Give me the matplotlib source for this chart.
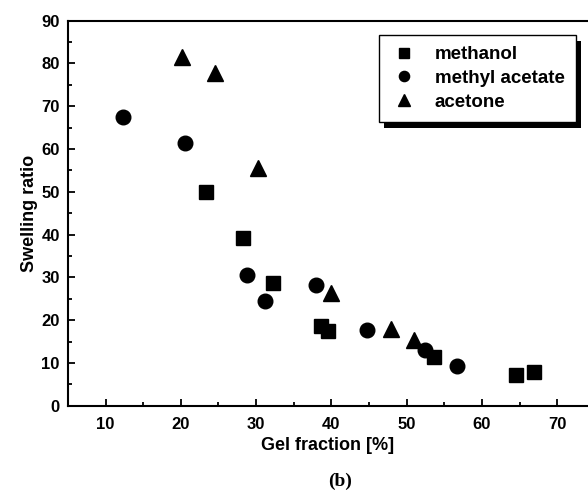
import matplotlib.pyplot as plt
from matplotlib.patches import Rectangle
from matplotlib.ticker import MultipleLocator

# values
methanol_x = [23.3, 28.2, 32.2, 38.6, 39.5, 53.7, 64.5, 66.9]
methanol_y = [50.0, 39.3, 28.8, 18.6, 17.5, 11.4, 7.1, 7.9]

methyl_acetate_x = [12.3, 20.6, 28.8, 31.2, 37.9, 44.8, 52.4, 56.7]
methyl_acetate_y = [67.4, 61.4, 30.5, 24.5, 28.2, 17.7, 13.0, 9.3]

acetone_x = [20.2, 24.5, 30.2, 39.9, 47.9, 51.0]
acetone_y = [81.4, 77.7, 55.5, 26.4, 17.9, 15.4]

plt.rcParams['font.family'] = ['Liberation Sans', 'DejaVu Sans']
plt.rcParams['font.weight'] = 'bold'

fig = plt.figure(figsize=(5.88, 5.04), dpi=100)
ax = fig.add_axes([0.1156, 0.195, 1.0 - 0.1156, 0.764])

ax.plot(methanol_x, methanol_y, 's', color='black', markersize=10, label='methanol')
ax.plot(methyl_acetate_x, methyl_acetate_y, 'o', color='black', markersize=10.5, label='methyl acetate')
ax.plot(acetone_x, acetone_y, '^', color='black', markersize=12, label='acetone')

ax.set_xlim(5, 74.1)
ax.set_ylim(0, 90)
ax.xaxis.set_major_locator(MultipleLocator(10))
ax.xaxis.set_minor_locator(MultipleLocator(5))
ax.yaxis.set_major_locator(MultipleLocator(10))
ax.yaxis.set_minor_locator(MultipleLocator(5))
ax.tick_params(which='both', direction='in', width=1.3, labelsize=12, top=False, right=False)
ax.tick_params(which='major', length=5)
ax.tick_params(axis='x', which='major', pad=8)
ax.tick_params(axis='y', which='major', pad=6)
ax.tick_params(which='minor', length=3)
for lab in ax.get_xticklabels() + ax.get_yticklabels():
    lab.set_fontweight('bold')
ax.spines['right'].set_visible(False)
for s in ['left', 'bottom', 'top']:
    ax.spines[s].set_linewidth(1.5)

ax.set_xlabel('Gel fraction [%]', fontsize=13, fontweight='bold', labelpad=4)
ax.set_ylabel('Swelling ratio', fontsize=13, fontweight='bold', labelpad=2)

leg = ax.legend(loc='upper right', bbox_to_anchor=(0.977, 0.963), fancybox=False, shadow=False,
                framealpha=1, edgecolor='black', fontsize=13.5, handletextpad=0.9,
                borderpad=0.6, borderaxespad=0, labelspacing=0.35, markerscale=0.7,
                handlelength=1.5)
leg.get_frame().set_linewidth(1.0)

# solid black drop shadow, offset down-right like the original
fig.canvas.draw()
bb = leg.get_window_extent()
ax.add_patch(Rectangle((bb.x0 + 5, bb.y0 - 6), bb.width, bb.height, transform=None,
                       facecolor='black', edgecolor='none', clip_on=False, zorder=4.9))

fig.text(0.578, 0.045, '(b)', ha='center', va='center', fontsize=14, fontweight='bold',
         family=['Liberation Serif', 'DejaVu Serif'])

fig.savefig('out.png', dpi=100)
